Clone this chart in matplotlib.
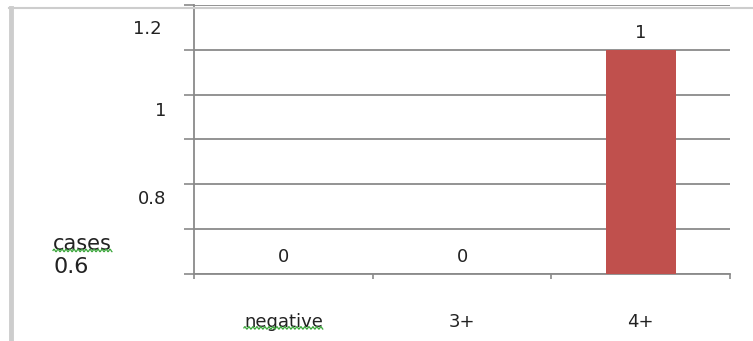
import matplotlib
matplotlib.use("Agg")
import matplotlib.pyplot as plt
import numpy as np

categories = ["negative", "3+", "4+"]
cases = [0, 0, 1]
ytick_labels = ["1.2", "1", "0.8", "0.6"]
axis_title = "cases"

BAR_COLOR = "#C0504D"
GRID_COLOR = "#8a8a8a"
TEXT_COLOR = "#222222"
FRAME_COLOR = "#cdcdcd"

plt.rcParams["font.family"] = ["DejaVu Sans"]

W, H = 753, 341
fig = plt.figure(figsize=(W / 100, H / 100), dpi=100)

# plot area in pixels: x 194..730, y 5..274 (from top)
ax = fig.add_axes([194 / W, (H - 274) / H, (730 - 194) / W, (274 - 5) / H])

x = np.arange(len(categories))
bars = ax.bar(x, cases, width=0.39, color=BAR_COLOR, zorder=3)

ax.set_xlim(-0.5, len(categories) - 0.5)
ax.set_ylim(0, 1.2)

# gridlines every 0.2, including top one
ax.set_yticks(np.arange(0, 1.21, 0.2))
ax.yaxis.grid(True, color=GRID_COLOR, linewidth=1.3, zorder=0)
ax.tick_params(axis="y", direction="out", length=7, width=1.2,
               color=GRID_COLOR, labelleft=False)

ax.set_xticks(x)
ax.set_xticklabels(categories, fontsize=13, color=TEXT_COLOR)
ax.set_xticks(np.arange(-0.5, len(categories), 1.0), minor=True)
ax.tick_params(axis="x", which="major", length=0, pad=28)
ax.tick_params(axis="x", which="minor", direction="out", length=3.5,
               width=1.2, color=GRID_COLOR)

for side in ["top", "right"]:
    ax.spines[side].set_visible(False)
for side in ["left", "bottom"]:
    ax.spines[side].set_color(GRID_COLOR)
    ax.spines[side].set_linewidth(1.3)

# data labels
for rect, val in zip(bars, cases):
    ax.annotate(str(val), (rect.get_x() + rect.get_width() / 2, rect.get_height()),
                xytext=(0, 17), textcoords="offset pixels",
                ha="center", va="center", fontsize=13, color=TEXT_COLOR)

# misplaced value-axis labels, as in the source screenshot
label_pos = [(-0.06, 1.091, 13, "right"), (-0.052, 0.727, 13, "right"),
             (-0.052, 0.335, 13, "right"), (-0.263, 0.029, 16, "left")]
for txt, (lx, ly, fs, ha) in zip(ytick_labels, label_pos):
    ax.text(lx, ly, txt, transform=ax.get_yaxis_transform(), ha=ha, va="center",
            fontsize=fs, color=TEXT_COLOR, clip_on=False)
title = ax.text(-0.263, 0.134, axis_title, transform=ax.get_yaxis_transform(),
                ha="left", va="center", fontsize=15, color=TEXT_COLOR, clip_on=False)

# outer chart frame (left band and top rule)
fig.add_artist(plt.Line2D([10.5 / W, 10.5 / W], [0, (H - 8) / H],
                          transform=fig.transFigure, color=FRAME_COLOR, linewidth=3.5))
fig.add_artist(plt.Line2D([9 / W, 1], [(H - 8) / H, (H - 8) / H],
                          transform=fig.transFigure, color=FRAME_COLOR, linewidth=1.5))

# green spell-check squiggles under "cases" and "negative"
fig.canvas.draw()
renderer = fig.canvas.get_renderer()


def squiggle(text_artist, drop=2.0):
    bb = text_artist.get_window_extent(renderer)
    xs = np.linspace(bb.x0, bb.x1, 200)
    base = bb.y0 + drop
    ys = base + 1.2 * np.sin((xs - bb.x0) / 4.0 * 2 * np.pi)
    fig.add_artist(plt.Line2D(xs / W, ys / H, transform=fig.transFigure,
                              color="#3aa63a", linewidth=0.9))


squiggle(title, drop=3.5)
squiggle(ax.get_xticklabels()[0], drop=3.0)

fig.savefig("out.png", dpi=100)
